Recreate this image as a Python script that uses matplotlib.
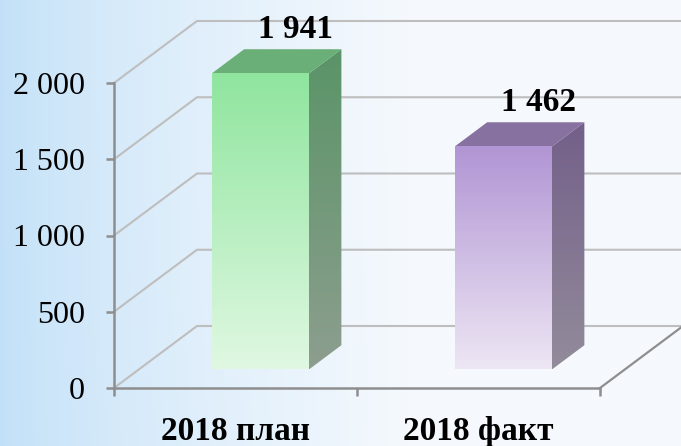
import numpy as np
import matplotlib
matplotlib.use("Agg")
import matplotlib.pyplot as plt
from matplotlib.patches import Polygon
from matplotlib.colors import to_rgb

# chart data
categories = ["2018 план", "2018 факт"]
values = [1941, 1462]
y_ticks = [0, 500, 1000, 1500, 2000]

# per-bar colours: front gradient (top, bottom), top face, side gradient (top, bottom)
front_top = ["#8fe59e", "#b195d4"]
front_bottom = ["#e0f8e2", "#ede6f4"]
top_face = ["#6aae78", "#8671a0"]
side_top = ["#5a9467", "#735f89"]
side_bottom = ["#8d9e8f", "#938c9b"]

W, H, DPI = 681, 446, 100
fig = plt.figure(figsize=(W / DPI, H / DPI), dpi=DPI)

# soft blue-to-white backdrop
bg = fig.add_axes([0, 0, 1, 1], zorder=-10)
xx = np.linspace(0, 1, W)[None, :]
yy = np.linspace(0, 1, H)[:, None]
t = np.clip(xx / 0.6, 0, 1) ** 0.7
t = t * (1 - 0.12 * yy ** 3 * (1 - t))
c0 = np.array(to_rgb("#c1e0f8"))
c1 = np.array(to_rgb("#f5f9fd"))
img = c0[None, None, :] * (1 - t[..., None]) + c1[None, None, :] * t[..., None]
bg.imshow(img, aspect="auto", extent=[0, 1, 0, 1])
bg.axis("off")

# front plane of the 3D box
left, right, bottom, top = 114, 600, 388, 83
ax = fig.add_axes([left / W, 1 - bottom / H, (right - left) / W, (bottom - top) / H])
ax.patch.set_alpha(0)

# depth vector of the box in data units
DX = 83 / ((right - left) / len(categories))
DY = 62 * 2000 / (bottom - top)

grid_c = "#bebebe"
axis_c = "#8e8e8e"

# walls: gridlines on the left wall and the back wall
for v in y_ticks:
    ax.plot([0, DX, len(categories) + DX], [v, v + DY, v + DY],
            color=grid_c, lw=1.5, clip_on=False, zorder=1, solid_joinstyle="miter")
# floor right edge
ax.plot([len(categories), len(categories) + DX], [0, DY],
        color=axis_c, lw=1.6, clip_on=False, zorder=1)


def grad_fill(poly, c_top, c_bot, ymin, ymax, xmin, xmax, z):
    g = np.linspace(0, 1, 256)[:, None]
    a = np.array(to_rgb(c_top)); b = np.array(to_rgb(c_bot))
    arr = a[None, None, :] * (1 - g[..., None]) + b[None, None, :] * g[..., None]
    arr = np.repeat(arr, 2, axis=1)
    im = ax.imshow(arr, aspect="auto", extent=[xmin, xmax, ymin, ymax],
                   origin="upper", zorder=z, interpolation="bilinear")
    ax.add_patch(poly)
    im.set_clip_box(fig.bbox)
    im.set_clip_path(poly)


f0, f1 = 0.30, 0.69      # front/back depth of the bars
bw = 0.4                 # bar width in category units
for i, v in enumerate(values):
    x0 = i + 0.5 - bw / 2
    x1 = i + 0.5 + bw / 2
    ox0, oy0 = f0 * DX, f0 * DY
    ox1, oy1 = f1 * DX, f1 * DY
    # side face
    side = Polygon([(x1 + ox0, oy0), (x1 + ox1, oy1), (x1 + ox1, v + oy1), (x1 + ox0, v + oy0)],
                   closed=True, facecolor="none", edgecolor="none", zorder=3, clip_on=False)
    grad_fill(side, side_top[i], side_bottom[i], oy0, v + oy1, x1 + ox0, x1 + ox1, 3)
    # top face
    ax.add_patch(Polygon([(x0 + ox0, v + oy0), (x1 + ox0, v + oy0), (x1 + ox1, v + oy1), (x0 + ox1, v + oy1)],
                         closed=True, facecolor=top_face[i], edgecolor="none", zorder=4, clip_on=False))
    # front face
    front = Polygon([(x0 + ox0, oy0), (x1 + ox0, oy0), (x1 + ox0, v + oy0), (x0 + ox0, v + oy0)],
                    closed=True, facecolor="none", edgecolor="none", zorder=5, clip_on=False)
    grad_fill(front, front_top[i], front_bottom[i], oy0, v + oy0, x0 + ox0, x1 + ox0, 5)
    # value label above the back edge of the top face
    label = f"{v:,}".replace(",", " ")
    ax.annotate(label, (i + 0.5 + ox1, v + oy1), xytext=(2, 3), textcoords="offset points",
                ha="center", va="bottom", fontsize=24, fontweight="bold",
                family="Liberation Serif", color="black", zorder=6, annotation_clip=False)

ax.set_xlim(0, len(categories))
ax.set_ylim(0, 2000)

# axes
for s in ["top", "right"]:
    ax.spines[s].set_visible(False)
for s in ["left", "bottom"]:
    ax.spines[s].set_color(axis_c)
    ax.spines[s].set_linewidth(1.8)
    ax.spines[s].set_zorder(2)

ax.set_yticks(y_ticks)
ax.set_yticklabels([f"{t:,}".replace(",", " ") for t in y_ticks],
                   family="Liberation Serif", fontsize=23)
ax.tick_params(axis="y", length=6, width=1.8, color=axis_c, pad=15)

ax.set_xticks(range(len(categories) + 1))
ax.set_xticklabels([])
ax.tick_params(axis="x", which="major", length=6, width=1.8, color=axis_c)
ax.set_xticks([i + 0.5 for i in range(len(categories))], minor=True)
ax.set_xticklabels(categories, minor=True, family="Liberation Serif",
                   fontsize=24, fontweight="bold")
ax.tick_params(axis="x", which="minor", length=0, pad=20)

fig.savefig("out.png", dpi=DPI)
